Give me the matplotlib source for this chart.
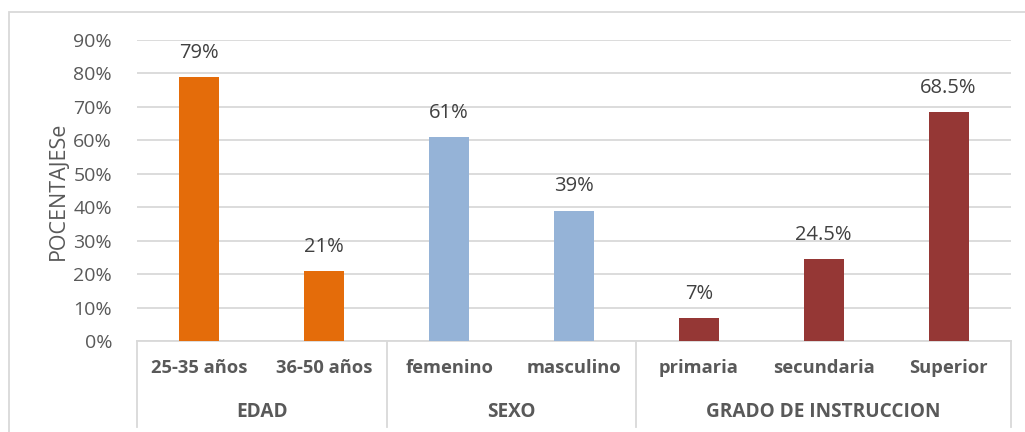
import matplotlib.pyplot as plt
from matplotlib.patches import Rectangle
import numpy as np

plt.rcParams['font.family'] = ['Open Sans', 'DejaVu Sans']

# Datos
categorias = ["25-35 años", "36-50 años", "femenino", "masculino",
              "primaria", "secundaria", "Superior"]
valores = [0.79, 0.21, 0.61, 0.39, 0.07, 0.245, 0.685]
etiquetas = ["79%", "21%", "61%", "39%", "7%", "24.5%", "68.5%"]
grupos = ["EDAD", "SEXO", "GRADO DE INSTRUCCION"]
tam_grupos = [2, 2, 3]
colores_grupo = ["#E46C0A", "#95B3D7", "#953735"]

gris_txt = "#595959"
gris_lin = "#D9D9D9"

fig = plt.figure(figsize=(10.25, 4.32), dpi=100)
ax = fig.add_axes([137 / 1025, (432 - 341) / 432, 874 / 1025, 301 / 432])

colores = []
for c, n in zip(colores_grupo, tam_grupos):
    colores += [c] * n

x = np.arange(len(categorias))
ax.bar(x, valores, width=0.32, color=colores, zorder=3)

for xi, v, t in zip(x, valores, etiquetas):
    ax.text(xi, v + 0.072, t, ha='center', va='center', fontsize=14.5,
            color="#404040")

ax.set_xlim(-0.5, len(categorias) - 0.5)
ax.set_ylim(0, 0.9)
ax.set_yticks(np.arange(0, 0.91, 0.1))
ax.set_yticklabels([f"{int(round(v * 100))}%" for v in np.arange(0, 0.91, 0.1)],
                   fontsize=14, color=gris_txt)
ax.grid(axis='y', color=gris_lin, linewidth=1.3, zorder=0)
ax.tick_params(axis='y', length=0, pad=18)
ax.tick_params(axis='x', length=0)
ax.set_xticks([])
for s in ['top', 'right', 'left']:
    ax.spines[s].set_visible(False)
ax.spines['bottom'].set_color(gris_lin)
ax.spines['bottom'].set_linewidth(1.3)
ax.set_ylabel("POCENTAJESe", fontsize=15.5, color=gris_txt, labelpad=3)

# Eje de categorias de dos niveles
trans = ax.get_xaxis_transform()
for xi, c in zip(x, categorias):
    ax.text(xi, -0.09, c, transform=trans, ha='center', va='center',
            fontsize=13.2, fontweight='bold', color=gris_txt)

bordes = np.concatenate([[0], np.cumsum(tam_grupos)]) - 0.5
for b in bordes:
    ax.plot([b, b], [0, -0.285], transform=trans, color=gris_lin,
            linewidth=1.3, clip_on=False)
for g, a, b in zip(grupos, bordes[:-1], bordes[1:]):
    ax.text((a + b) / 2, -0.235, g, transform=trans, ha='center', va='center',
            fontsize=13.7, fontweight='bold', color=gris_txt)

# Borde del grafico
fig.patches.append(Rectangle((9 / 1025, -0.1), 1.2, (432 - 12) / 432 + 0.1,
                             transform=fig.transFigure, fill=False,
                             edgecolor=gris_lin, linewidth=1.3))

plt.savefig("out.png", dpi=100)
